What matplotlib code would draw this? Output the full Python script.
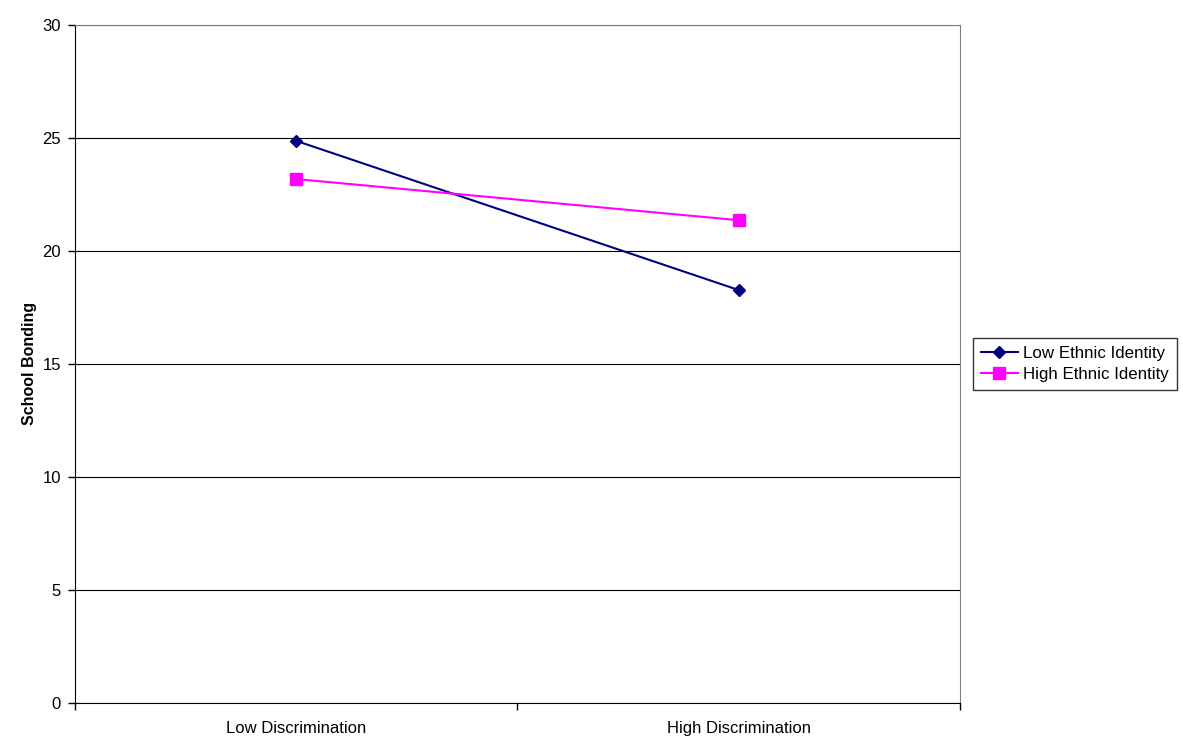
import matplotlib.pyplot as plt
from matplotlib.ticker import FixedLocator, NullFormatter

plt.rcParams['font.family'] = ['Liberation Sans', 'DejaVu Sans']

categories = ['Low Discrimination', 'High Discrimination']
low_ethnic = [24.87, 18.27]
high_ethnic = [23.18, 21.36]
y_ticks = [0, 5, 10, 15, 20, 25, 30]

fig = plt.figure(figsize=(11.83, 7.51), dpi=100)
ax = fig.add_axes([0.0634, 0.064, 0.748, 0.9028])

xpos = [i + 0.5 for i in range(len(categories))]
ax.plot(xpos, low_ethnic, color='#000080', marker='D', markersize=6, linewidth=1.5,
        label='Low Ethnic Identity')
ax.plot(xpos, high_ethnic, color='#FF00FF', marker='s', markersize=8, linewidth=1.5,
        label='High Ethnic Identity')

ax.set_xlim(0, 2)
ax.set_ylim(0, 30)
ax.set_yticks(y_ticks)
ax.yaxis.grid(True, color='black', linewidth=0.8)
ax.set_axisbelow(True)

# category boundaries get tick marks, labels sit between them
ax.xaxis.set_major_locator(FixedLocator([0, 1, 2]))
ax.xaxis.set_major_formatter(NullFormatter())
ax.xaxis.set_minor_locator(FixedLocator(xpos))
ax.set_xticklabels(categories, minor=True)
ax.tick_params(axis='x', which='minor', length=0, pad=13, labelsize=12)
ax.tick_params(axis='x', which='major', length=5, width=1)
ax.tick_params(axis='y', length=5, width=1, labelsize=12, pad=5)

for s in ['left', 'bottom']:
    ax.spines[s].set_color('black')
ax.spines['right'].set_color('#808080')
ax.spines['top'].set_color('#808080')

ax.set_ylabel('School Bonding', fontsize=11.5, fontweight='bold', labelpad=4)

leg = ax.legend(loc='center left', bbox_to_anchor=(1.015, 0.5), frameon=True,
                fancybox=False, edgecolor='black', fontsize=12.2, numpoints=1,
                handlelength=2.2, handletextpad=0.3, borderpad=0.45,
                labelspacing=0.35, borderaxespad=0)
leg.get_frame().set_linewidth(1)

fig.savefig('out.png', dpi=100)
